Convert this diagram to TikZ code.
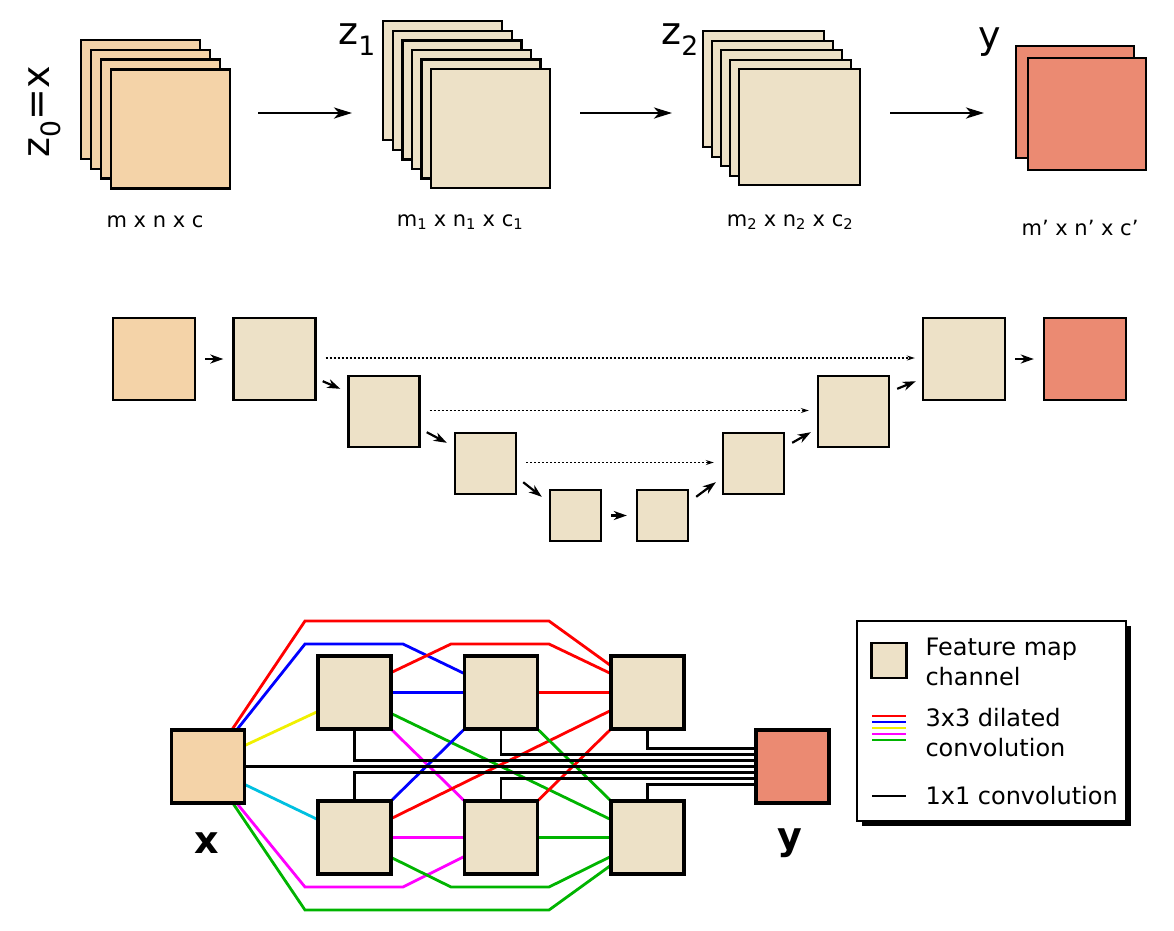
\documentclass[tikz,border=0pt]{standalone}
\usepackage{fontspec}
\setmainfont{DejaVu Sans}
\usetikzlibrary{arrows.meta,calc}
\definecolor{peach}{HTML}{F4D3A8}
\definecolor{beige}{HTML}{EDE1C7}
\definecolor{salmon}{HTML}{EB8A72}
\definecolor{cgreen}{HTML}{00B400}
\definecolor{ccyan}{HTML}{00C0E0}
\definecolor{cmag}{HTML}{FF00FF}
\definecolor{cyel}{HTML}{F0F000}
\definecolor{cblue}{HTML}{0000FF}
\definecolor{cred}{HTML}{FF0000}
\newcommand{\pr}{{\char"27}}
\begin{document}
\begin{tikzpicture}[x=1pt,y=-1pt,
  lay/.style={draw=black,line width=2.4pt,anchor=north west,inner sep=0pt},
  box/.style={draw=black,line width=2.4pt,inner sep=0pt},
  big/.style={-{Stealth[length=18pt,width=11pt,inset=5pt]},line width=2.6pt},
  sm/.style={-{Stealth[length=13pt,width=9pt,inset=4pt]},line width=2.2pt},
  dot/.style={-{Stealth[length=8pt,width=5pt]},dash pattern=on 2pt off 2pt,line width=1.3pt},
  cn/.style={line width=2.8pt},
  lbl/.style={font=\fontsize{21}{24}\selectfont},
  zl/.style={font=\fontsize{38}{40}\selectfont}]
\useasboundingbox (0,0) rectangle (1174,930);
% ---- top row
\foreach \i in {0,...,3}
  \node[lay,fill=peach,minimum width=119pt,minimum height=119pt] (s1l\i) at (80+10*\i,39+9.7*\i) {};
\foreach \i in {0,...,5}
  \node[lay,fill=beige,minimum width=119pt,minimum height=119pt] (s2l\i) at (382+9.6*\i,20+9.6*\i) {};
\foreach \i in {0,...,4}
  \node[lay,fill=beige,minimum width=121pt,minimum height=116pt] (s3l\i) at (702+9*\i,30+9.5*\i) {};
\foreach \i in {0,1}
  \node[lay,fill=salmon,minimum width=118pt,minimum height=112pt] (s4l\i) at (1015+12*\i,45+12*\i) {};
\node[zl,rotate=90] (z0) at (45,112) {z\textsubscript{0}=x};
\node[zl] (z1) at (357,40) {z\textsubscript{1}};
\node[zl] (z2) at (680,40) {z\textsubscript{2}};
\node[zl] (yy) at (990,42) {y};
\node[lbl] (t1) at (155,222) {m x n x c};
\node[lbl] (t2) at (460,222) {m\textsubscript{1} x n\textsubscript{1} x c\textsubscript{1}};
\node[lbl] (t3) at (790,222) {m\textsubscript{2} x n\textsubscript{2} x c\textsubscript{2}};
\node[lbl] (t4) at (1080,228) {m\pr{} x n\pr{} x c\pr};
\coordinate (a1s) at (258,113); \coordinate (a1e) at (352,113);
\coordinate (a2s) at (580,113); \coordinate (a2e) at (672,113);
\coordinate (a3s) at (890,113); \coordinate (a3e) at (984,113);
\draw[big] (a1s) -- (a1e);
\draw[big] (a2s) -- (a2e);
\draw[big] (a3s) -- (a3e);
% ---- middle U-net
\node[box,fill=peach,minimum size=82pt] (m1) at (154,359) {};
\node[box,fill=beige,minimum size=82pt] (m2) at (274.5,359) {};
\node[box,fill=beige,minimum size=71pt] (m3) at (384,411.5) {};
\node[box,fill=beige,minimum size=61pt] (m4) at (485.5,463.5) {};
\node[box,fill=beige,minimum size=51pt] (m5) at (575.5,515.5) {};
\node[box,fill=beige,minimum size=51pt] (m6) at (662.5,515.5) {};
\node[box,fill=beige,minimum size=61pt] (m7) at (753.5,463.5) {};
\node[box,fill=beige,minimum size=71pt] (m8) at (853.5,411.5) {};
\node[box,fill=beige,minimum size=82pt] (m9) at (964,359) {};
\node[box,fill=salmon,minimum size=82pt] (m10) at (1085,359) {};
\draw[sm] ($(m1.east)+(9,0)$) -- ($(m2.west)+(-9,0)$);
\draw[sm] ($(m2.south east)+(6,-20)$) -- ($(m3.north west)+(-7,14)$);
\draw[sm] ($(m3.south east)+(6,-16)$) -- ($(m4.north west)+(-7,11)$);
\draw[sm] ($(m4.south east)+(6,-13)$) -- ($(m5.north west)+(-7,8)$);
\draw[sm] ($(m5.east)+(9,0)$) -- ($(m6.west)+(-9,0)$);
\draw[sm] ($(m6.north east)+(7,8)$) -- ($(m7.south west)+(-6,-13)$);
\draw[sm] ($(m7.north east)+(7,11)$) -- ($(m8.south west)+(-6,-16)$);
\draw[sm] ($(m8.north east)+(7,14)$) -- ($(m9.south west)+(-6,-20)$);
\draw[sm] ($(m9.east)+(9,0)$) -- ($(m10.west)+(-9,0)$);
\draw[dot] ($(m2.east)+(9,-1)$) -- ($(m9.west)+(-7,-1)$);
\draw[dot] ($(m3.east)+(9,-1)$) -- ($(m8.west)+(-8,-1)$);
\draw[dot] ($(m4.east)+(9,-1)$) -- ($(m7.west)+(-8,-1)$);
% ---- bottom network
\node[box,fill=peach,minimum size=72pt] (X) at (208,766.5) {};
\node[box,fill=beige,minimum size=72pt] (A1) at (354.5,692.5) {};
\node[box,fill=beige,minimum size=72pt] (B1) at (501,692.5) {};
\node[box,fill=beige,minimum size=72pt] (C1) at (647.5,692.5) {};
\node[box,fill=beige,minimum size=72pt] (A2) at (354.5,837.5) {};
\node[box,fill=beige,minimum size=72pt] (B2) at (501,837.5) {};
\node[box,fill=beige,minimum size=72pt] (C2) at (647.5,837.5) {};
\node[box,fill=salmon,minimum size=72pt] (Y) at (792.5,766.5) {};
\node[font=\bfseries\fontsize{38}{40}\selectfont] (xl) at (207,843) {x};
\node[font=\bfseries\fontsize{38}{40}\selectfont] (yl) at (790,843) {y};
\draw[cn,cred] ($(X.north east)+(-13,0)$) -- (305,621) -- (549,621) -- ($(C1.north west)+(0,10)$);
\draw[cn,cblue] ($(X.north east)+(-8,0)$) -- (305,644) -- (403,644) -- ($(B1.north west)+(0,18)$);
\draw[cn,cred] ($(A1.north east)+(0,17)$) -- (451,644) -- (549,644) -- ($(C1.north west)+(0,18)$);
\draw[cn,cblue] (A1.east) -- (B1.west);
\draw[cn,cred] (B1.east) -- (C1.west);
\draw[cn,cyel] ($(X.north east)+(0,16)$) -- ($(A1.south west)+(0,-18)$);
\draw[cn,ccyan] ($(X.south east)+(0,-19)$) -- ($(A2.north west)+(0,19)$);
\draw[cn,cgreen] ($(A1.south east)+(0,-16)$) -- ($(C2.north west)+(0,19)$);
\draw[cn,cmag] (A1.south east) -- (B2.north west);
\draw[cn,cblue] (B1.south west) -- (A2.north east);
\draw[cn,cred] ($(A2.north east)+(0,18)$) -- ($(C1.south west)+(0,-19)$);
\draw[cn,cgreen] (B1.south east) -- (C2.north west);
\draw[cn,cred] (B2.north east) -- (C1.south west);
\draw[cn,cmag] ($(X.south east)+(-8,0)$) -- (305,887) -- (403,887) -- ($(B2.south west)+(0,-18)$);
\draw[cn,cmag] (A2.east) -- (B2.west);
\draw[cn,cgreen] ($(A2.south east)+(0,-17)$) -- (451,887) -- (549,887) -- ($(C2.south west)+(0,-18)$);
\draw[cn,cgreen] (B2.east) -- (C2.west);
\draw[cn,cgreen] ($(X.south east)+(-12,0)$) -- (305,910) -- (549,910) -- ($(C2.south west)+(0,-9)$);
\draw[cn] (A1.south) |- ($(Y.west)+(0,-6)$);
\draw[cn] (B1.south) |- ($(Y.west)+(0,-12)$);
\draw[cn] (C1.south) |- ($(Y.west)+(0,-18)$);
\draw[cn] (X.east) -- (Y.west);
\draw[cn] (A2.north) |- ($(Y.west)+(0,6)$);
\draw[cn] (B2.north) |- ($(Y.west)+(0,12)$);
\draw[cn] (C2.north) |- ($(Y.west)+(0,18)$);
\foreach \n in {X,A1,B1,C1,A2,B2,C2,Y} \draw[line width=2.4pt] (\n.north west) rectangle (\n.south east);
% ---- legend
\fill[black] (862,626) rectangle (1131,826);
\node[draw=black,fill=white,line width=2.4pt,anchor=north west,minimum width=269pt,minimum height=200pt,inner sep=0pt] (leg) at (856,620) {};
\node[box,fill=beige,minimum size=35pt] (lb) at (889,660.5) {};
\node[anchor=west,align=left,font=\fontsize{24}{30}\selectfont] (lt1) at (922,662) {Feature map\\channel};
\node[anchor=west,align=left,font=\fontsize{24}{30}\selectfont] (lt2) at (922,733) {3x3 dilated\\convolution};
\node[anchor=west,font=\fontsize{24}{30}\selectfont] (lt3) at (922,796) {1x1 convolution};
\coordinate (lc1) at (872,716); \coordinate (lc1e) at (906,716);
\draw[cn,cred] (lc1) -- (lc1e);
\draw[cn,cblue] ($(lc1)+(0,6)$) -- ($(lc1e)+(0,6)$);
\draw[cn,cyel] ($(lc1)+(0,12)$) -- ($(lc1e)+(0,12)$);
\draw[cn,cmag] ($(lc1)+(0,18)$) -- ($(lc1e)+(0,18)$);
\draw[cn,cgreen] ($(lc1)+(0,24)$) -- ($(lc1e)+(0,24)$);
\coordinate (lk) at (872,796); \coordinate (lke) at (906,796);
\draw[cn] (lk) -- (lke);
\end{tikzpicture}
\end{document}
